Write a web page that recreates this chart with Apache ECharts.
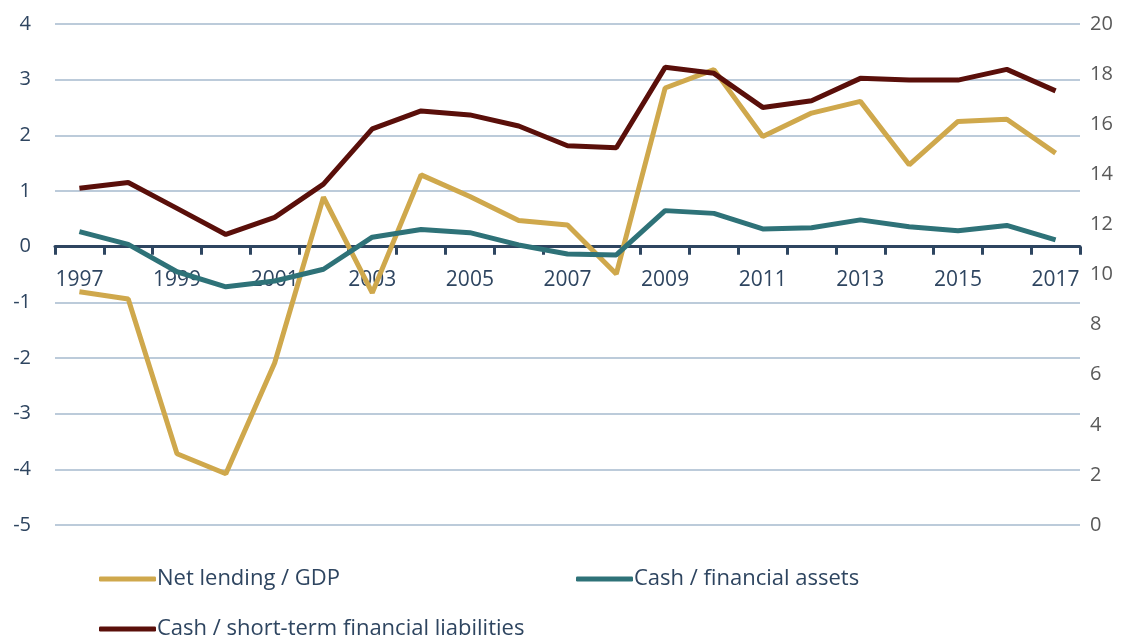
<!DOCTYPE html>
<html>
<head>
<meta charset="utf-8">
<script src="https://cdn.jsdelivr.net/npm/echarts@6/dist/echarts.min.js"></script>
<style>
  html, body { margin: 0; padding: 0; background: #fff; }
  #chart { width: 1126px; height: 640px; }
</style>
</head>
<body>
<div id="chart"></div>
<script>
  // years on the x axis
  var years = ['1997', '1998', '1999', '2000', '2001', '2002', '2003', '2004', '2005', '2006', '2007',
    '2008', '2009', '2010', '2011', '2012', '2013', '2014', '2015', '2016', '2017'];
  // left axis, %
  var netLending = [-0.81, -0.94, -3.72, -4.08, -2.09, 0.89, -0.83, 1.29, 0.90, 0.47, 0.39,
    -0.49, 2.85, 3.18, 1.98, 2.40, 2.61, 1.47, 2.25, 2.29, 1.68];
  // right axis, %
  var cashAssets = [11.71, 11.20, 10.11, 9.51, 9.74, 10.21, 11.49, 11.80, 11.67, 11.18, 10.82,
    10.78, 12.55, 12.44, 11.82, 11.87, 12.18, 11.91, 11.75, 11.96, 11.38];
  var cashLiabilities = [13.44, 13.67, 12.64, 11.60, 12.28, 13.61, 15.81, 16.53, 16.37, 15.93, 15.14,
    15.06, 18.27, 18.03, 16.67, 16.94, 17.83, 17.76, 17.76, 18.19, 17.33];

  var textColor = '#2E4560';
  var font = 'Open Sans';

  var gridTop = 24;
  var gridBottom = 115;
  var plotHeight = 640 - gridTop - gridBottom;
  // x axis sits at the left axis zero line (0 within -5..4)
  var zeroOffset = -plotHeight * 5 / 9;

  var myChart = echarts.init(document.getElementById('chart'));

  function legendItem (name, left, top) {
    return {
      data: [name],
      left: left,
      top: top,
      icon: 'roundRect',
      itemWidth: 57,
      itemHeight: 5,
      itemGap: 0,
      selectedMode: false,
      textStyle: { color: textColor, fontSize: 22, fontFamily: font, padding: [0, 0, 0, -4] }
    };
  }

  myChart.setOption({
    animation: false,
    color: ['#CFA84C', '#2E7278', '#5A0F0A'],
    grid: { left: 55, right: 46, top: gridTop, bottom: gridBottom },
    legend: [
      legendItem('Net lending / GDP', 94, 563),
      legendItem('Cash / financial assets', 571, 563),
      legendItem('Cash / short-term financial liabilities', 94, 613)
    ],
    xAxis: {
      type: 'category',
      data: years,
      boundaryGap: true,
      position: 'bottom',
      offset: zeroOffset,
      axisLine: { onZero: false, lineStyle: { color: textColor, width: 3 } },
      axisTick: { show: true, interval: 0, length: 8, lineStyle: { color: textColor, width: 3 } },
      axisLabel: { interval: 1, margin: 23, color: textColor, fontSize: 21, fontFamily: font },
      splitLine: { show: false }
    },
    yAxis: [{
      type: 'value',
      min: -5,
      max: 4,
      interval: 1,
      axisLine: { show: false },
      axisTick: { show: false },
      axisLabel: { margin: 24, color: textColor, fontSize: 20, fontFamily: font },
      splitLine: { lineStyle: { color: '#BCCBDA', width: 2 } }
    }, {
      type: 'value',
      min: 0,
      max: 20,
      interval: 2,
      position: 'right',
      axisLine: { show: false },
      axisTick: { show: false },
      axisLabel: { margin: 10, color: '#595959', fontSize: 20, fontFamily: font },
      splitLine: { show: false }
    }],
    series: [{
      name: 'Net lending / GDP',
      type: 'line',
      yAxisIndex: 0,
      data: netLending,
      showSymbol: false,
      lineStyle: { width: 5 }
    }, {
      name: 'Cash / financial assets',
      type: 'line',
      yAxisIndex: 1,
      data: cashAssets,
      showSymbol: false,
      lineStyle: { width: 5 }
    }, {
      name: 'Cash / short-term financial liabilities',
      type: 'line',
      yAxisIndex: 1,
      data: cashLiabilities,
      showSymbol: false,
      lineStyle: { width: 5 }
    }]
  });
</script>
</body>
</html>
